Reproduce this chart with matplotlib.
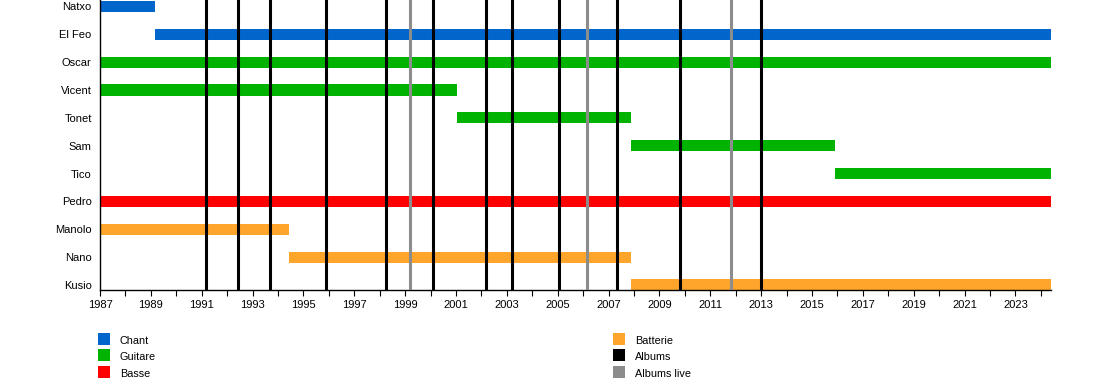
import matplotlib
matplotlib.use("Agg")
import matplotlib.pyplot as plt
from matplotlib.patches import Rectangle

plt.rcParams['font.family'] = ['Liberation Sans', 'DejaVu Sans']

# ---- data ----
members = ["Natxo", "El Feo", "Oscar", "Vicent", "Tonet", "Sam", "Tico",
           "Pedro", "Manolo", "Nano", "Kusio"]
roles = ["Chant", "Chant", "Guitare", "Guitare", "Guitare", "Guitare", "Guitare",
         "Basse", "Batterie", "Batterie", "Batterie"]
starts = [1987.0, 1989.16, 1987.0, 1987.0, 2001.05, 2007.88, 2015.9,
          1987.0, 1987.0, 1994.42, 2007.88]
ends = [1989.16, 2024.4, 2024.4, 2001.05, 2007.88, 2015.9, 2024.4,
        2024.4, 1994.42, 2007.88, 2024.4]
albums = [1991.17, 1992.42, 1993.68, 1995.88, 1998.24, 2000.1, 2002.18,
          2003.2, 2005.04, 2007.32, 2009.82, 2012.98]
live_albums = [1999.2, 2006.14, 2011.82]

legend_left = ["Chant", "Guitare", "Basse"]
legend_right = ["Batterie", "Albums", "Albums live"]

colors = {"Chant": "#0066CC", "Guitare": "#00B300", "Basse": "#FF0000",
          "Batterie": "#FFA52C", "Albums": "#000000", "Albums live": "#8C8C8C"}

start_year, end_year = 1987, 2024.4

# ---- figure ----
W, H = 1100, 390
fig = plt.figure(figsize=(W / 100, H / 100), dpi=100)
ax = fig.add_axes([100 / W, (H - 290) / H, (1051 - 100) / W, 290 / H])

rows = list(range(len(members)))
for r, role, s, e in zip(rows, roles, starts, ends):
    ax.barh(r, e - s, left=s, height=0.40, color=colors[role], zorder=2,
            linewidth=0)

for x in albums:
    ax.axvline(x, color=colors["Albums"], lw=2.2, zorder=3)
for x in live_albums:
    ax.axvline(x, color=colors["Albums live"], lw=2.2, zorder=3)

ax.set_xlim(start_year, end_year)
ax.set_ylim(10.18, -0.23)
ax.set_yticks(rows)
ax.set_yticklabels(members, fontsize=8)
ax.tick_params(axis='y', length=0, pad=6)

ax.set_xticks(list(range(1987, 2025, 2)))
ax.set_xticklabels([str(y) for y in range(1987, 2025, 2)], fontsize=8)
ax.set_xticks(list(range(1988, 2025, 2)), minor=True)
ax.tick_params(axis='x', which='both', length=4, width=0.8, pad=3)

for side in ("top", "right"):
    ax.spines[side].set_visible(False)
for side in ("left", "bottom"):
    ax.spines[side].set_linewidth(1.0)

# ---- legend ----
def legend_column(labels, sq_x, txt_x):
    for i, lab in enumerate(labels):
        top = 332.5 + i * 16.5
        fig.add_artist(Rectangle((sq_x / W, (H - top - 12) / H), 12 / W, 12 / H,
                                 transform=fig.transFigure,
                                 color=colors[lab], lw=0))
        fig.text(txt_x / W, (H - top - 8.5) / H, lab, fontsize=7.8,
                 va='center', ha='left')

legend_column(legend_left, 98, 120)
legend_column(legend_right, 613, 635)

fig.savefig("out.png", dpi=100)
